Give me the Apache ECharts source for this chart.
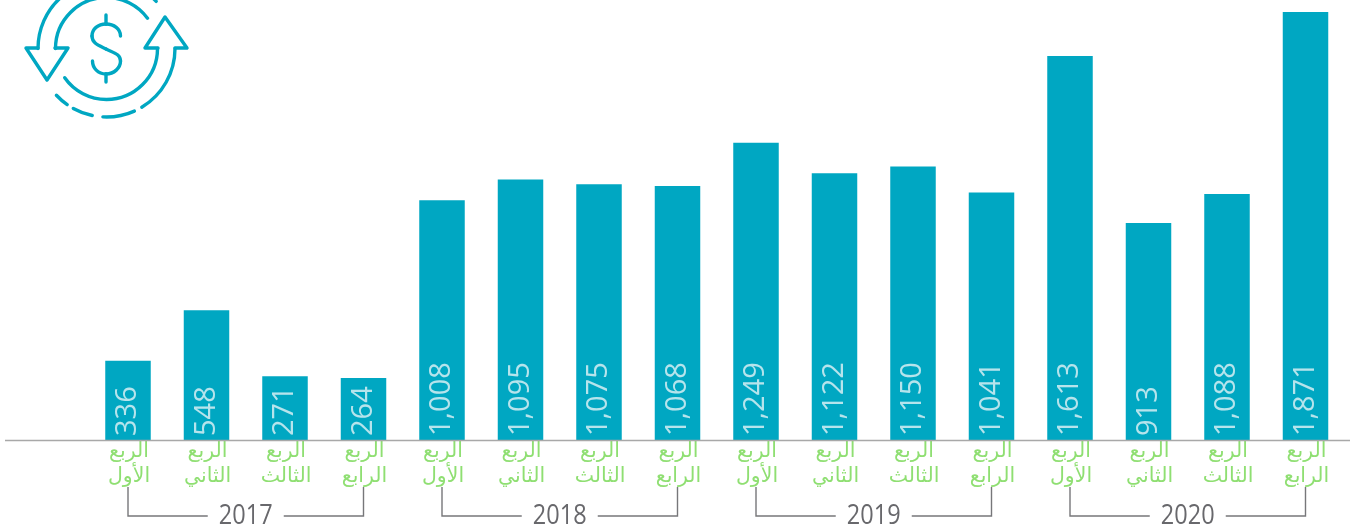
<!DOCTYPE html>
<html><head><meta charset="utf-8">
<style>html,body{margin:0;padding:0;background:#fff}#c{width:1352px;height:530px}</style>
<script src="https://cdn.jsdelivr.net/npm/echarts@6/dist/echarts.min.js"></script>
</head><body><div id="c"></div>
<script>
// Quarter names, one per bar
const quarterLabels = ['الربع\nالأول','الربع\nالثاني','الربع\nالثالث','الربع\nالرابع','الربع\nالأول','الربع\nالثاني','الربع\nالثالث','الربع\nالرابع','الربع\nالأول','الربع\nالثاني','الربع\nالثالث','الربع\nالرابع','الربع\nالأول','الربع\nالثاني','الربع\nالثالث','الربع\nالرابع'];
// Numbers as printed on the bars
const printedValues = [336,548,271,264,1008,1095,1075,1068,1249,1122,1150,1041,1613,913,1088,1871];
// Bar lengths as drawn in the picture (the last-but-one and last bars are drawn shorter than printed)
const barValues = [336,548,271,264,1008,1095,1075,1068,1249,1122,1150,1041,1613,913,1035,1797];
const years = ['2017','2018','2019','2020'];
const yearStartIndex = [0,4,8,12];
const yearEndIndex = [3,7,11,15];

const TEAL='#00a7c2', GREEN='#8fdf72', GREY='#68686c';
const rad=d=>d*Math.PI/180;
const C={cx:106.5,cy:48.5};
const icoStyle={stroke:TEAL,lineWidth:3.4,fill:'none',lineCap:'round',lineJoin:'round'};
const arc=(r,a,b)=>({type:'arc',silent:true,shape:{cx:C.cx,cy:C.cy,r,startAngle:rad(a),endAngle:rad(b),clockwise:true},style:icoStyle});
const poly=(pts)=>({type:'polyline',silent:true,shape:{points:pts},style:icoStyle});
const bez=(x1,y1,c1x,c1y,c2x,c2y,x2,y2)=>({type:'bezierCurve',silent:true,shape:{x1,y1,cpx1:c1x,cpy1:c1y,cpx2:c2x,cpy2:c2y,x2,y2},style:icoStyle});
const chart=echarts.init(document.getElementById('c'),null,{renderer:'canvas'});
chart.setOption({
  animation:false,
  backgroundColor:'#fff',
  grid:{left:88.75,width:1256,top:12,height:429,containLabel:false},
  xAxis:{type:'category',data:quarterLabels,boundaryGap:true,
    axisLine:{show:false},axisTick:{show:false},
    axisLabel:{interval:0,margin:-2,color:GREEN,fontSize:20.5,lineHeight:25,padding:[0,0,0,2],fontFamily:'"DejaVu Sans","Noto Sans",sans-serif',verticalAlign:'top'}},
  yAxis:{type:'value',min:0,max:1797,show:false,splitLine:{show:false}},
  series:[
    {type:'bar',data:barValues,barWidth:45.5,itemStyle:{color:TEAL},
     label:{show:true,position:'insideBottom',rotate:90,distance:5,align:'left',verticalAlign:'middle',
       color:'#b6e4ec',fontSize:29,fontFamily:'"Open Sans",sans-serif',
       formatter:p=>printedValues[p.dataIndex].toLocaleString('en-US')}},
    {type:'custom',data:years.map((y,i)=>[yearStartIndex[i],yearEndIndex[i]]),encode:{x:[0,1]},silent:true,
     renderItem(params,api){
       const i=params.dataIndex;
       const x0=api.coord([api.value(0),0])[0], x1=api.coord([api.value(1),0])[0];
       const base=api.coord([0,0])[1], mid=(x0+x1)/2;
       const top=base+46, low=base+75, gap=38;
       const ls={stroke:'#77777a',lineWidth:1.4,fill:'none'};
       return {type:'group',children:[
         {type:'polyline',shape:{points:[[x0,top],[x0,low],[mid-gap,low]]},style:ls},
         {type:'polyline',shape:{points:[[x1,top],[x1,low],[mid+gap,low]]},style:ls},
         {type:'text',x:mid,y:low,scaleX:0.84,style:{text:years[i],x:0,y:0,align:'center',verticalAlign:'middle',fill:GREY,fontSize:28,fontFamily:'"Open Sans",sans-serif'}}
       ]};
     }}
  ],
  graphic:[
    {type:'line',silent:true,z:10,shape:{x1:5,y1:440.5,x2:1350,y2:440.5},style:{stroke:'#a8a8a8',lineWidth:1.5}},
    arc(51,180,323.5),arc(51,0,145),
    arc(68.5,180,228),arc(68.5,300,316.5),arc(68.5,0,59),arc(68.5,66,93),arc(68.5,102,119),arc(68.5,125,137),
    poly([[38,48],[26,48],[47,80],[68,48],[55,48]]),
    poly([[158,48],[145,48],[165,17],[187,48],[175,48]]),
    bez(120.5,36,120.5,29,114,24,106,24),bez(106,24,98,24,92,29,92,36),bez(92,36,92,43,98,45,106,49),
    bez(106,49,114,53,120.5,54,120.5,61),bez(120.5,61,120.5,68,114,74,106,74),bez(106,74,98,74,92.5,68,92.5,61),
    poly([[106,15],[106,24]]),poly([[106,74],[106,82]])
  ]
});
</script></body></html>
